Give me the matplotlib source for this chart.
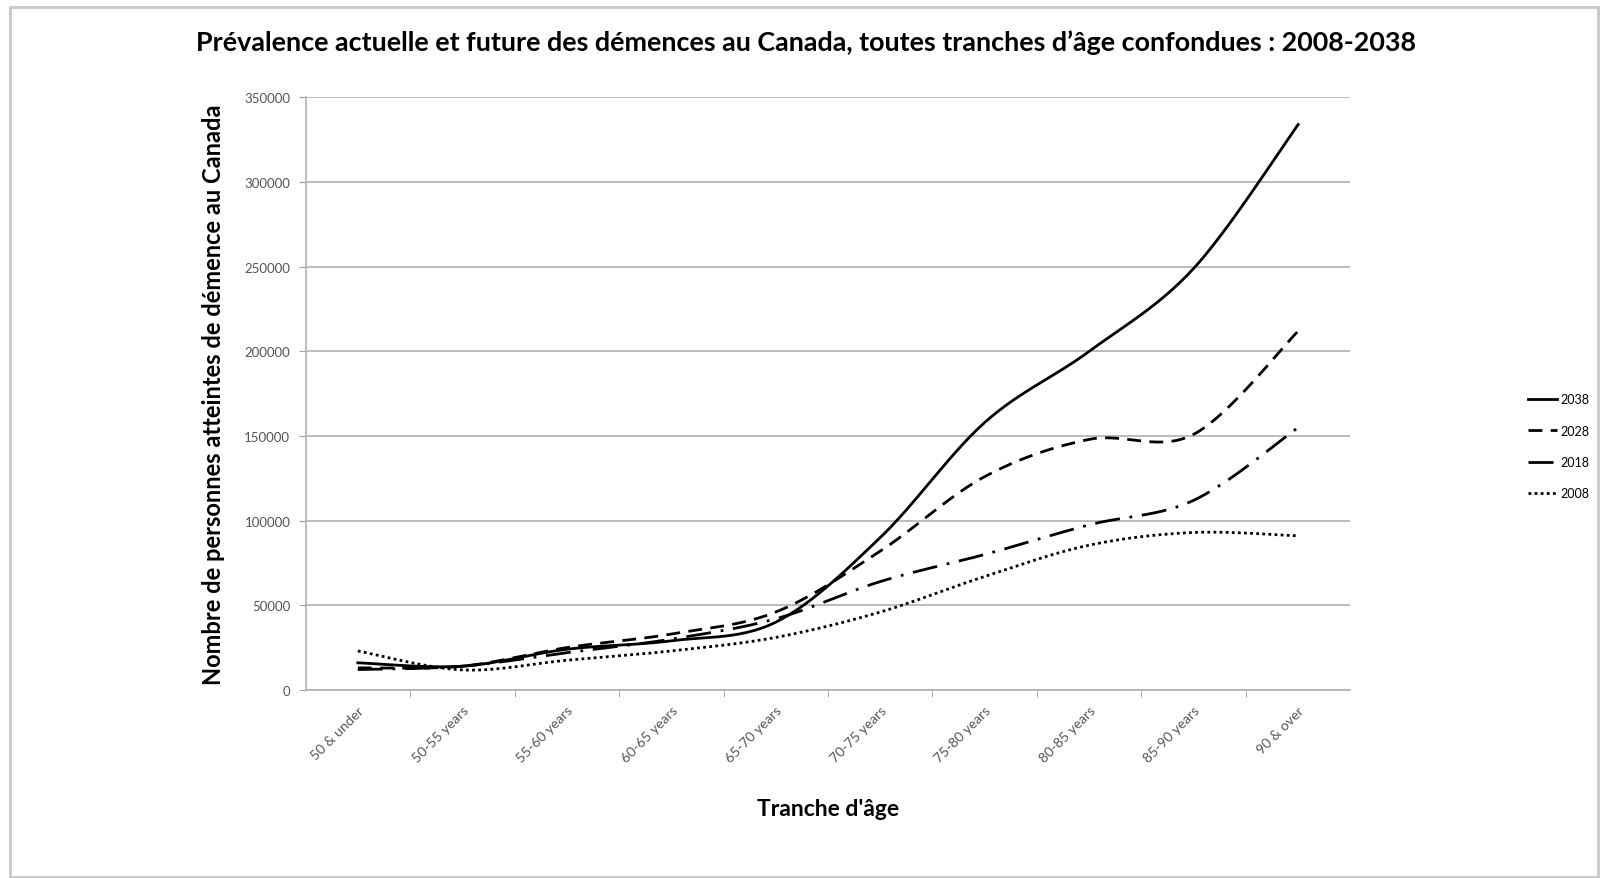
import numpy as np
import matplotlib
matplotlib.use("Agg")
import matplotlib.pyplot as plt
from matplotlib.patches import Rectangle

plt.rcParams['font.family'] = ['Lato', 'DejaVu Sans']

# Age bands and values
age_bands = ["50 & under", "50-55 years", "55-60 years", "60-65 years", "65-70 years",
             "70-75 years", "75-80 years", "80-85 years", "85-90 years", "90 & over"]
y2038 = [16000, 14000, 24000, 29000, 40000, 90000, 158000, 200000, 249000, 334000]
y2028 = [13000, 14000, 25000, 33000, 46000, 82000, 126000, 148000, 151000, 212000]
y2018 = [12000, 14000, 22000, 30000, 42000, 64000, 80000, 97500, 112000, 155000]
y2008 = [23000, 11800, 17500, 23000, 31000, 46000, 67000, 85500, 93000, 91000]
years = ["2038", "2028", "2018", "2008"]


def smooth(xs, ys, n=30):
    # Excel-style smoothed line: cubic Bezier through each point (Catmull-Rom)
    xs = np.asarray(xs, float)
    ys = np.asarray(ys, float)
    px = np.concatenate([[xs[0]], xs, [xs[-1]]])
    py = np.concatenate([[ys[0]], ys, [ys[-1]]])
    outx, outy = [], []
    t = np.linspace(0, 1, n)
    for i in range(1, len(px) - 2):
        p0 = np.array([px[i], py[i]])
        p3 = np.array([px[i + 1], py[i + 1]])
        c1 = p0 + (p3 - np.array([px[i - 1], py[i - 1]])) / 6
        c2 = p3 - (np.array([px[i + 2], py[i + 2]]) - p0) / 6
        b = ((1 - t) ** 3)[:, None] * p0 + (3 * (1 - t) ** 2 * t)[:, None] * c1 \
            + (3 * (1 - t) * t ** 2)[:, None] * c2 + (t ** 3)[:, None] * p3
        outx.extend(b[:, 0])
        outy.extend(b[:, 1])
    return np.array(outx), np.array(outy)


fig = plt.figure(figsize=(16, 8.79), dpi=100)
ax = fig.add_axes([0.191, 0.214, 0.653, 0.674])

x = np.arange(len(age_bands))
styles = [
    dict(linestyle='-', linewidth=2.0),
    dict(linestyle=(0, (5, 3)), linewidth=2.0),
    dict(linestyle=(0, (9, 3.5, 1, 3.5)), linewidth=2.0),
    dict(linestyle=(0, (1, 1.2)), linewidth=2.0, dash_capstyle='butt'),
]
for data, lab, st in zip([y2038, y2028, y2018, y2008], years, styles):
    sx, sy = smooth(x, data)
    ax.plot(sx, sy, color='black', label=lab, **st)

ax.set_xlim(-0.5, len(age_bands) - 0.5)
ax.set_ylim(0, 350000)
ax.set_yticks(np.arange(0, 350001, 50000))
ax.set_yticklabels([str(v) for v in range(0, 350001, 50000)])
ax.yaxis.grid(True, color='#b0b0b0', linewidth=1.2)
ax.set_axisbelow(True)

ax.set_xticks(x)
ax.set_xticklabels(age_bands, rotation=45, ha='right', va='top',
                   rotation_mode='anchor', fontsize=10, color='#555555')
ax.set_xticks(np.arange(0.5, len(age_bands) - 0.5, 1), minor=True)
ax.tick_params(axis='x', which='major', length=0, pad=10)
ax.tick_params(axis='x', which='minor', length=5, color='#a0a0a0')
ax.tick_params(axis='y', length=5, color='#a0a0a0', labelsize=9.5,
               labelcolor='#555555', pad=6)

for s in ['top', 'right']:
    ax.spines[s].set_visible(False)
for s in ['left', 'bottom']:
    ax.spines[s].set_color('#b0b0b0')
    ax.spines[s].set_linewidth(1.2)

ax.set_xlabel("Tranche d'âge", fontsize=16.5, fontweight='bold', labelpad=24)
ax.set_ylabel("Nombre de personnes atteintes de démence au Canada",
              fontsize=17, fontweight='bold', labelpad=14)

fig.text(0.504, 0.951, "Prévalence actuelle et future des démences au Canada, "
         "toutes tranches d’âge confondues : 2008-2038",
         ha='center', va='center', fontsize=19.4, fontweight='bold')

ax.legend(loc='center left', bbox_to_anchor=(0.948, 0.491),
          bbox_transform=fig.transFigure, frameon=False, fontsize=9,
          handlelength=2.3, handletextpad=0.3, labelspacing=1.55)

fig.patches.append(Rectangle((10 / 1600, 1 / 879), 1588 / 1600, 870 / 879,
                             transform=fig.transFigure, fill=False,
                             edgecolor='#c8c8c8', linewidth=2))

fig.savefig("out.png", dpi=100, facecolor='white')
